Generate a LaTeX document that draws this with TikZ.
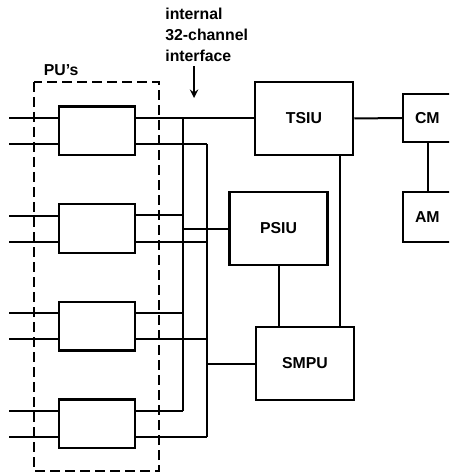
\documentclass[tikz,border=0pt]{standalone}
\usepackage{fontspec}
\setmainfont{Liberation Sans}
\usepackage{tikz}

\tikzset{
    unit/.style={draw, line width=0.5mm, minimum width=19.6mm, minimum height=14.6mm,
        font=\bfseries\fontsize{9}{11}\selectfont},
    pubox/.style={draw, line width=0.5mm, minimum width=15.2mm, minimum height=9.7mm},
    mem/.style={draw, line width=0.5mm, minimum width=14.4mm, inner xsep=2.4mm,
        text width=9.6mm, align=left, font=\bfseries\fontsize{9}{11}\selectfont},
    wire/.style={line width=0.4mm},
}

\begin{document}
\begin{tikzpicture}[x=0.2mm, y=-0.2mm]
    \useasboundingbox (0,0) rectangle (449,473);
    \clip (0,0) rectangle (449,473);

    % PU group
    \draw[line width=0.35mm, dash pattern=on 2mm off 1mm] (34,82) rectangle (159,471);
    \node[anchor=south west, inner sep=0.5mm, font=\bfseries\fontsize{9}{11}\selectfont]
        (pulabel) at (41,79) {PU’s};

    % bus lines
    \coordinate (busA) at (183,0);
    \coordinate (busB) at (207,0);

    \foreach \i/\yc in {1/131,2/228.5,3/326,4/423.5} {
        \node[pubox] (pu\i) at (97,\yc) {};
        \coordinate (t\i) at ([yshift=2.6mm]pu\i.east);
        \coordinate (b\i) at ([yshift=-2.6mm]pu\i.east);
        \coordinate (lt\i) at (9,\yc-13);
        \coordinate (lb\i) at (9,\yc+13);
        \draw[wire] (lt\i) -- (lt\i -| pu\i.west);
        \draw[wire] (lb\i) -- (lb\i -| pu\i.west);
        \draw[wire] (t\i) -- (t\i -| busA);
        \draw[wire] (b\i) -- (b\i -| busB);
    }
    \draw[wire] (t1 -| busA) -- (t4 -| busA);
    \draw[wire] (b1 -| busB) -- (b4 -| busB);

    % units
    \node[unit] (tsiu) at (304,118.5) {TSIU};
    \node[unit] (psiu) at (278.5,228.5) {PSIU};
    \node[unit] (smpu) at (305,363.5) {SMPU};
    \node[mem, minimum height=9.6mm] (cm) at (439,118) {CM};
    \node[mem, minimum height=10mm] (am) at (439,217) {AM};

    \draw[wire] (t1) -- (tsiu.west |- t1);
    \draw[wire] (busA |- psiu.west) -- (psiu.west);
    \draw[wire] (busB |- smpu.west) -- (smpu.west);
    \draw[wire] (tsiu.east) -- (cm.west);
    \draw[wire] ([xshift=-2.2mm]cm.south) -- ([xshift=-2.2mm]am.north);
    \draw[wire] (psiu.south) -- (psiu.south |- smpu.north);
    \draw[wire] ([xshift=7.2mm]tsiu.south) -- ([xshift=7.2mm]tsiu.south |- smpu.north);

    % interface label
    \node[anchor=north west, inner sep=0pt, align=left,
        font=\bfseries\fontsize{9}{12}\selectfont] (iface) at (165,8)
        {internal\\32-channel\\interface};
    \coordinate (arrtip) at (194,98);
    \draw[wire, ->, >=stealth] (iface.south -| arrtip) ++(0,4) -- (arrtip);
\end{tikzpicture}
\end{document}
